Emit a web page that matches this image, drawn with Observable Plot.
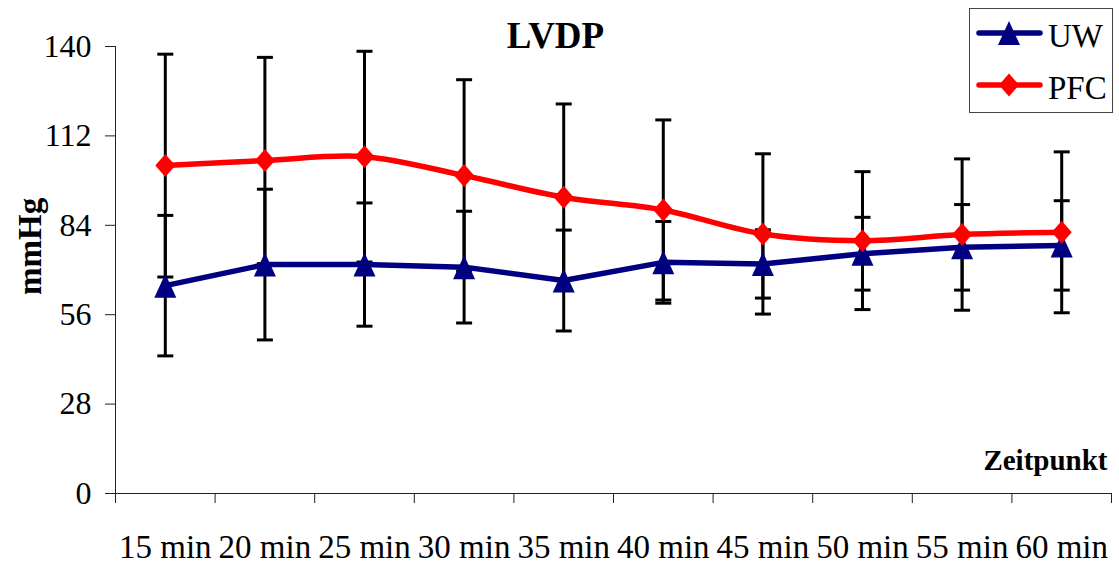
<!DOCTYPE html>
<html>
<head>
<meta charset="utf-8">
<script src="https://cdn.jsdelivr.net/npm/d3@7"></script>
<script src="https://cdn.jsdelivr.net/npm/@observablehq/plot@0.6"></script>
<style>
  html, body { margin: 0; padding: 0; background: #fff; }
  #wrap { position: relative; width: 1119px; height: 563px; font-family: "Liberation Serif", "Times New Roman", serif; }
  #legend { position: absolute; left: 969px; top: 8px; width: 142px; height: 103px; border: 1px solid #444; background: #fff; }
</style>
</head>
<body>
<div id="wrap"><div id="legend"></div></div>
<script>
// ---- data ----
const times = ["15 min", "20 min", "25 min", "30 min", "35 min", "40 min", "45 min", "50 min", "55 min", "60 min"];
const uwMean  = [65.1, 71.7, 71.7, 70.9, 66.7, 72.4, 71.9, 75.1, 77.1, 77.7];
const uwSD    = [22.0, 23.6, 19.3, 17.5, 15.8, 12.8, 10.7, 11.4, 13.4, 14.0];
const pfcMean = [102.7, 104.3, 105.5, 99.6, 92.8, 88.8, 81.3, 79.2, 81.1, 81.8];
const pfcSD   = [34.9, 32.3, 33.0, 30.0, 29.2, 28.2, 25.1, 21.6, 23.7, 25.2];
const yTicks  = [0, 28, 56, 84, 112, 140];
const seriesNames = ["UW", "PFC"];
const seriesColors = ["#000080", "#ff0000"];

// ---- build rows ----
const uwRows = times.map((t, i) => ({i, time: t, mean: uwMean[i], sd: uwSD[i]}));
const pfcRows = times.map((t, i) => ({i, time: t, mean: pfcMean[i], sd: pfcSD[i]}));
const allRows = uwRows.concat(pfcRows);
const boundaries = d3.range(times.length + 1).map(k => k - 0.5);
const centers = d3.range(times.length);

// ---- custom symbols ----
const triUp = {draw(ctx, size) { const r = Math.sqrt(size / Math.PI);
  ctx.moveTo(0, -1.2 * r); ctx.lineTo(1.1 * r, 1.2 * r); ctx.lineTo(-1.1 * r, 1.2 * r); ctx.closePath(); }};
const diamond = {draw(ctx, size) { const r = Math.sqrt(size / Math.PI);
  ctx.moveTo(0, -1.15 * r); ctx.lineTo(1.0 * r, 0); ctx.lineTo(0, 1.15 * r); ctx.lineTo(-1.0 * r, 0); ctx.closePath(); }};
const hline = {draw(ctx, size) { ctx.moveTo(-8, 0); ctx.lineTo(8, 0); }};

const serif = '"Liberation Serif", "Times New Roman", serif';
const axisColor = "#222";

const chart = Plot.plot({
  width: 1119, height: 563,
  marginLeft: 115, marginRight: 8, marginTop: 46, marginBottom: 70,
  style: {fontFamily: serif, fontSize: "33px", background: "transparent", overflow: "visible", color: "#000"},
  x: {type: "linear", domain: [-0.5, times.length - 0.5]},
  y: {domain: [0, 140]},
  marks: [
    Plot.ruleY([0], {stroke: axisColor, strokeWidth: 1}),
    Plot.ruleX([-0.5], {y1: 0, y2: 140, stroke: axisColor, strokeWidth: 1}),
    Plot.axisY({ticks: yTicks, tickSize: 10, tickPadding: 14, fontSize: 32, label: null, stroke: axisColor, fill: "#000"}),
    Plot.axisX({ticks: boundaries, tickSize: 10, tickFormat: () => "", label: null, stroke: axisColor}),
    Plot.axisX({ticks: centers, tickSize: 0, tickPadding: 41, tickFormat: i => times[i], fontSize: 33, label: null, fill: "#000"}),
    // error bars
    Plot.ruleX(allRows, {x: "i", y1: d => d.mean - d.sd, y2: d => d.mean + d.sd, stroke: "#000", strokeWidth: 3}),
    Plot.dot(allRows, {x: "i", y: d => d.mean + d.sd, symbol: hline, r: 5, fill: "none", stroke: "#000", strokeWidth: 3}),
    Plot.dot(allRows, {x: "i", y: d => d.mean - d.sd, symbol: hline, r: 5, fill: "none", stroke: "#000", strokeWidth: 3}),
    // UW
    Plot.line(uwRows, {x: "i", y: "mean", stroke: seriesColors[0], strokeWidth: 5.5, curve: "linear", strokeLinejoin: "round"}),
    Plot.dot(uwRows, {x: "i", y: "mean", symbol: triUp, r: 10, fill: seriesColors[0], stroke: "none"}),
    // PFC
    Plot.line(pfcRows, {x: "i", y: "mean", stroke: seriesColors[1], strokeWidth: 5.5, curve: "catmull-rom"}),
    Plot.dot(pfcRows, {x: "i", y: "mean", symbol: diamond, r: 10, fill: seriesColors[1], stroke: "none"}),
    // texts
    Plot.text(["LVDP"], {text: d => d, frameAnchor: "top", dx: -58, dy: 1, lineAnchor: "bottom", fontSize: 37, fontWeight: "bold", fill: "#000"}),
    Plot.text(["mmHg"], {text: d => d, frameAnchor: "left", rotate: -90, dx: -85, dy: 25, fontSize: 33, fontWeight: "bold", fill: "#000"}),
    Plot.text(["Zeitpunkt"], {text: d => d, frameAnchor: "bottom-right", textAnchor: "end", lineAnchor: "bottom", dx: -4, dy: -24, fontSize: 29, fontWeight: "bold", fill: "#000"})
  ]
});
chart.style.position = "absolute";
chart.style.left = "0px";
chart.style.top = "0px";
const wrap = document.getElementById("wrap");
wrap.insertBefore(chart, wrap.firstChild);

// ---- legend (line + marker swatches) ----
const lg = d3.select("#legend").append("svg").attr("width", 142).attr("height", 103);
const symbols = [triUp, diamond];
const rowY = [24, 76];
seriesNames.forEach((name, k) => {
  const g = lg.append("g");
  g.append("line").attr("x1", 9).attr("x2", 70).attr("y1", rowY[k]).attr("y2", rowY[k])
    .attr("stroke", seriesColors[k]).attr("stroke-width", 5.5).attr("stroke-linecap", "round");
  g.append("path").attr("transform", `translate(39,${rowY[k]})`)
    .attr("d", d3.symbol(symbols[k], Math.PI * 100)()).attr("fill", seriesColors[k]);
  g.append("text").attr("x", 78).attr("y", rowY[k] + 14).attr("font-size", 33)
    .attr("font-family", serif).attr("fill", "#000").text(name);
});
</script>
</body>
</html>
